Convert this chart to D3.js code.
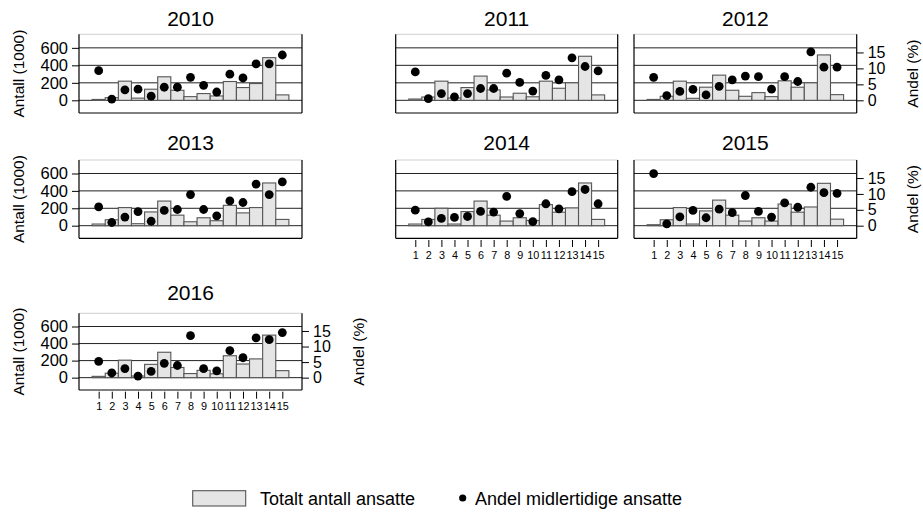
<!DOCTYPE html>
<html>
<head>
<meta charset="utf-8">
<script src="https://cdn.jsdelivr.net/npm/d3@7"></script>
<style>
  html, body { margin: 0; padding: 0; background: #fff; }
  svg { display: block; font-family: "Liberation Sans", Arial, sans-serif; }
</style>
</head>
<body>
<svg id="chart" width="923" height="516"></svg>
<script>
// ---- Data ----
const categories = [1, 2, 3, 4, 5, 6, 7, 8, 9, 10, 11, 12, 13, 14, 15];
const years = ["2010", "2011", "2012", "2013", "2014", "2015", "2016"];
const leftTicks = [0, 200, 400, 600];
const rightTicks = [0, 5, 10, 15];

// Totalt antall ansatte (1000)
const antall2010 = [10, 30, 219, 25, 127, 269, 115, 42, 77, 50, 215, 146, 192, 488, 62];
const antall2011 = [15, 38, 219, 27, 146, 277, 119, 38, 81, 40, 219, 138, 200, 504, 62];
const antall2012 = [10, 46, 219, 23, 150, 288, 115, 46, 88, 42, 223, 150, 200, 519, 65];
const antall2013 = [19, 68, 208, 23, 158, 283, 121, 45, 91, 57, 234, 147, 208, 491, 72];
const antall2014 = [19, 72, 200, 19, 162, 283, 121, 53, 91, 60, 242, 155, 204, 491, 72];
const antall2015 = [11, 68, 208, 19, 170, 294, 121, 53, 91, 53, 249, 155, 215, 487, 75];
const antall2016 = [15, 52, 205, 19, 156, 298, 119, 48, 86, 45, 257, 160, 220, 499, 82];

// Andel midlertidige ansatte (%)
const andel2010 = [9.3, 0.4, 3.3, 3.5, 1.3, 4.1, 4.1, 7.2, 4.7, 2.6, 8.2, 7.0, 11.4, 11.4, 14.2];
const andel2011 = [8.9, 0.5, 2.1, 1.1, 2.1, 3.7, 3.7, 8.5, 5.6, 2.9, 7.8, 6.4, 13.3, 10.6, 9.2];
const andel2012 = [7.2, 1.5, 2.8, 3.4, 1.7, 4.4, 6.4, 7.6, 7.4, 3.5, 7.4, 5.9, 15.2, 10.4, 10.4];
const andel2013 = [5.9, 1.0, 2.7, 4.4, 1.4, 4.8, 5.1, 9.8, 5.1, 3.1, 7.8, 7.3, 13.1, 9.8, 13.8];
const andel2014 = [4.9, 1.2, 2.3, 2.6, 2.9, 4.5, 4.3, 9.2, 3.8, 1.3, 6.9, 5.3, 10.7, 11.4, 6.9];
const andel2015 = [16.4, 0.6, 2.8, 4.8, 2.5, 5.2, 4.1, 9.5, 4.5, 2.7, 7.2, 5.8, 12.1, 10.4, 10.2];
const andel2016 = [5.2, 1.5, 2.9, 0.5, 2.0, 4.6, 3.9, 13.5, 2.9, 2.2, 8.7, 6.4, 12.8, 12.2, 14.5];

const antallByYear = [antall2010, antall2011, antall2012, antall2013, antall2014, antall2015, antall2016];
const andelByYear = [andel2010, andel2011, andel2012, andel2013, andel2014, andel2015, andel2016];

// ---- Layout ----
const cols = [{x0: 79, x1: 302}, {x0: 395.7, x1: 617.7}, {x0: 634, x1: 856.7}];
const rows = [{top: 34.3, bottom: 113, title: 25.7}, {top: 160, bottom: 238.3, title: 150}, {top: 313.3, bottom: 390, title: 300}];
const pctFactor = 36.5; // right-axis units per percent
const font = '"Liberation Sans", Arial, sans-serif';

const panels = years.map((yr, i) => ({
  year: yr, col: i % 3, row: Math.floor(i / 3),
  antall: antallByYear[i], andel: andelByYear[i],
  leftAxis: i % 3 === 0,
  rightAxis: i % 3 === 2 || i === 6,
  xAxis: i >= 4
}));

const svg = d3.select("#chart");
svg.append("rect").attr("width", 923).attr("height", 516).attr("fill", "#fff");

panels.forEach(p => {
  const c = cols[p.col], r = rows[p.row];
  const x = d3.scaleLinear().domain([-0.5, 16.5]).range([c.x0, c.x1]);
  const y = d3.scaleLinear().domain([-145, 755]).range([r.bottom, r.top]);
  const yR = d3.scaleLinear().domain([-145 / pctFactor, 755 / pctFactor]).range([r.bottom, r.top]);
  const g = svg.append("g");

  // title
  g.append("text").attr("x", (c.x0 + c.x1) / 2).attr("y", r.title)
    .attr("text-anchor", "middle").attr("font-size", 21).attr("fill", "#000").text(p.year);

  // gridlines
  g.selectAll(".grid").data(leftTicks).enter().append("line")
    .attr("x1", c.x0).attr("x2", c.x1)
    .attr("y1", d => y(d)).attr("y2", d => y(d))
    .attr("stroke", "#222").attr("stroke-width", 1);

  // bars
  g.selectAll(".bar").data(p.antall).enter().append("rect")
    .attr("x", (d, i) => x(categories[i] - 0.5))
    .attr("width", (d, i) => x(categories[i] + 0.5) - x(categories[i] - 0.5))
    .attr("y", d => y(d))
    .attr("height", d => y(0) - y(d))
    .attr("fill", "#e5e5e5").attr("stroke", "#555").attr("stroke-width", 1.1);

  // dots
  g.selectAll(".dot").data(p.andel).enter().append("circle")
    .attr("cx", (d, i) => x(categories[i]))
    .attr("cy", d => yR(d))
    .attr("r", 4.4).attr("fill", "#000");

  // frame
  g.append("line").attr("x1", c.x0).attr("x2", c.x1).attr("y1", r.top).attr("y2", r.top)
    .attr("stroke", "#cfcfcf").attr("stroke-width", 1);
  g.append("line").attr("x1", c.x0).attr("x2", c.x1).attr("y1", r.bottom).attr("y2", r.bottom)
    .attr("stroke", "#000").attr("stroke-width", 1.2);
  g.append("line").attr("x1", c.x0).attr("x2", c.x0).attr("y1", r.top).attr("y2", r.bottom)
    .attr("stroke", "#000").attr("stroke-width", 1.2);
  g.append("line").attr("x1", c.x1).attr("x2", c.x1).attr("y1", r.top).attr("y2", r.bottom)
    .attr("stroke", "#000").attr("stroke-width", 1.2);

  if (p.leftAxis) {
    const ax = d3.axisLeft(y).tickValues(leftTicks).tickSize(7).tickPadding(4);
    const a = g.append("g").attr("transform", `translate(${c.x0},0)`).call(ax);
    a.select(".domain").remove();
    a.selectAll("text").attr("font-size", 16.5).attr("font-family", font).attr("fill", "#000");
    a.selectAll("line").attr("stroke", "#000");
    g.append("text")
      .attr("transform", `translate(18,${(r.top + r.bottom) / 2}) rotate(-90)`)
      .attr("text-anchor", "middle").attr("dominant-baseline", "central")
      .attr("font-size", 15.5).attr("fill", "#000").text("Antall (1000)");
  }
  if (p.rightAxis) {
    const ax = d3.axisRight(yR).tickValues(rightTicks).tickSize(7).tickPadding(4);
    const a = g.append("g").attr("transform", `translate(${c.x1},0)`).call(ax);
    a.select(".domain").remove();
    a.selectAll("text").attr("font-size", 16).attr("font-family", font).attr("fill", "#000");
    a.selectAll("line").attr("stroke", "#000");
    g.append("text")
      .attr("transform", `translate(${c.x1 + 56},${(r.top + r.bottom) / 2}) rotate(-90)`)
      .attr("text-anchor", "middle").attr("dominant-baseline", "central")
      .attr("font-size", 15.5).attr("fill", "#000").text("Andel (%)");
  }
  if (p.xAxis) {
    const ax = d3.axisBottom(x).tickValues(categories).tickFormat(d3.format("d")).tickSize(7).tickPadding(4);
    const a = g.append("g").attr("transform", `translate(0,${r.bottom + 1.7})`).call(ax);
    a.select(".domain").remove();
    a.selectAll("text").attr("font-size", 10.8).attr("font-family", font).attr("fill", "#000");
    a.selectAll("line").attr("stroke", "#000");
  }
});

// ---- Legend ----
const legend = svg.append("g");
legend.append("rect").attr("x", 192.7).attr("y", 490.7).attr("width", 53).attr("height", 15.3)
  .attr("fill", "#e5e5e5").attr("stroke", "#555").attr("stroke-width", 1.1);
legend.append("text").attr("x", 260).attr("y", 504.5).attr("font-size", 18)
  .attr("fill", "#000").text("Totalt antall ansatte");
legend.append("circle").attr("cx", 462.7).attr("cy", 498).attr("r", 3.6).attr("fill", "#000");
legend.append("text").attr("x", 475).attr("y", 504.5).attr("font-size", 18)
  .attr("fill", "#000").text("Andel midlertidige ansatte");
</script>
</body>
</html>
